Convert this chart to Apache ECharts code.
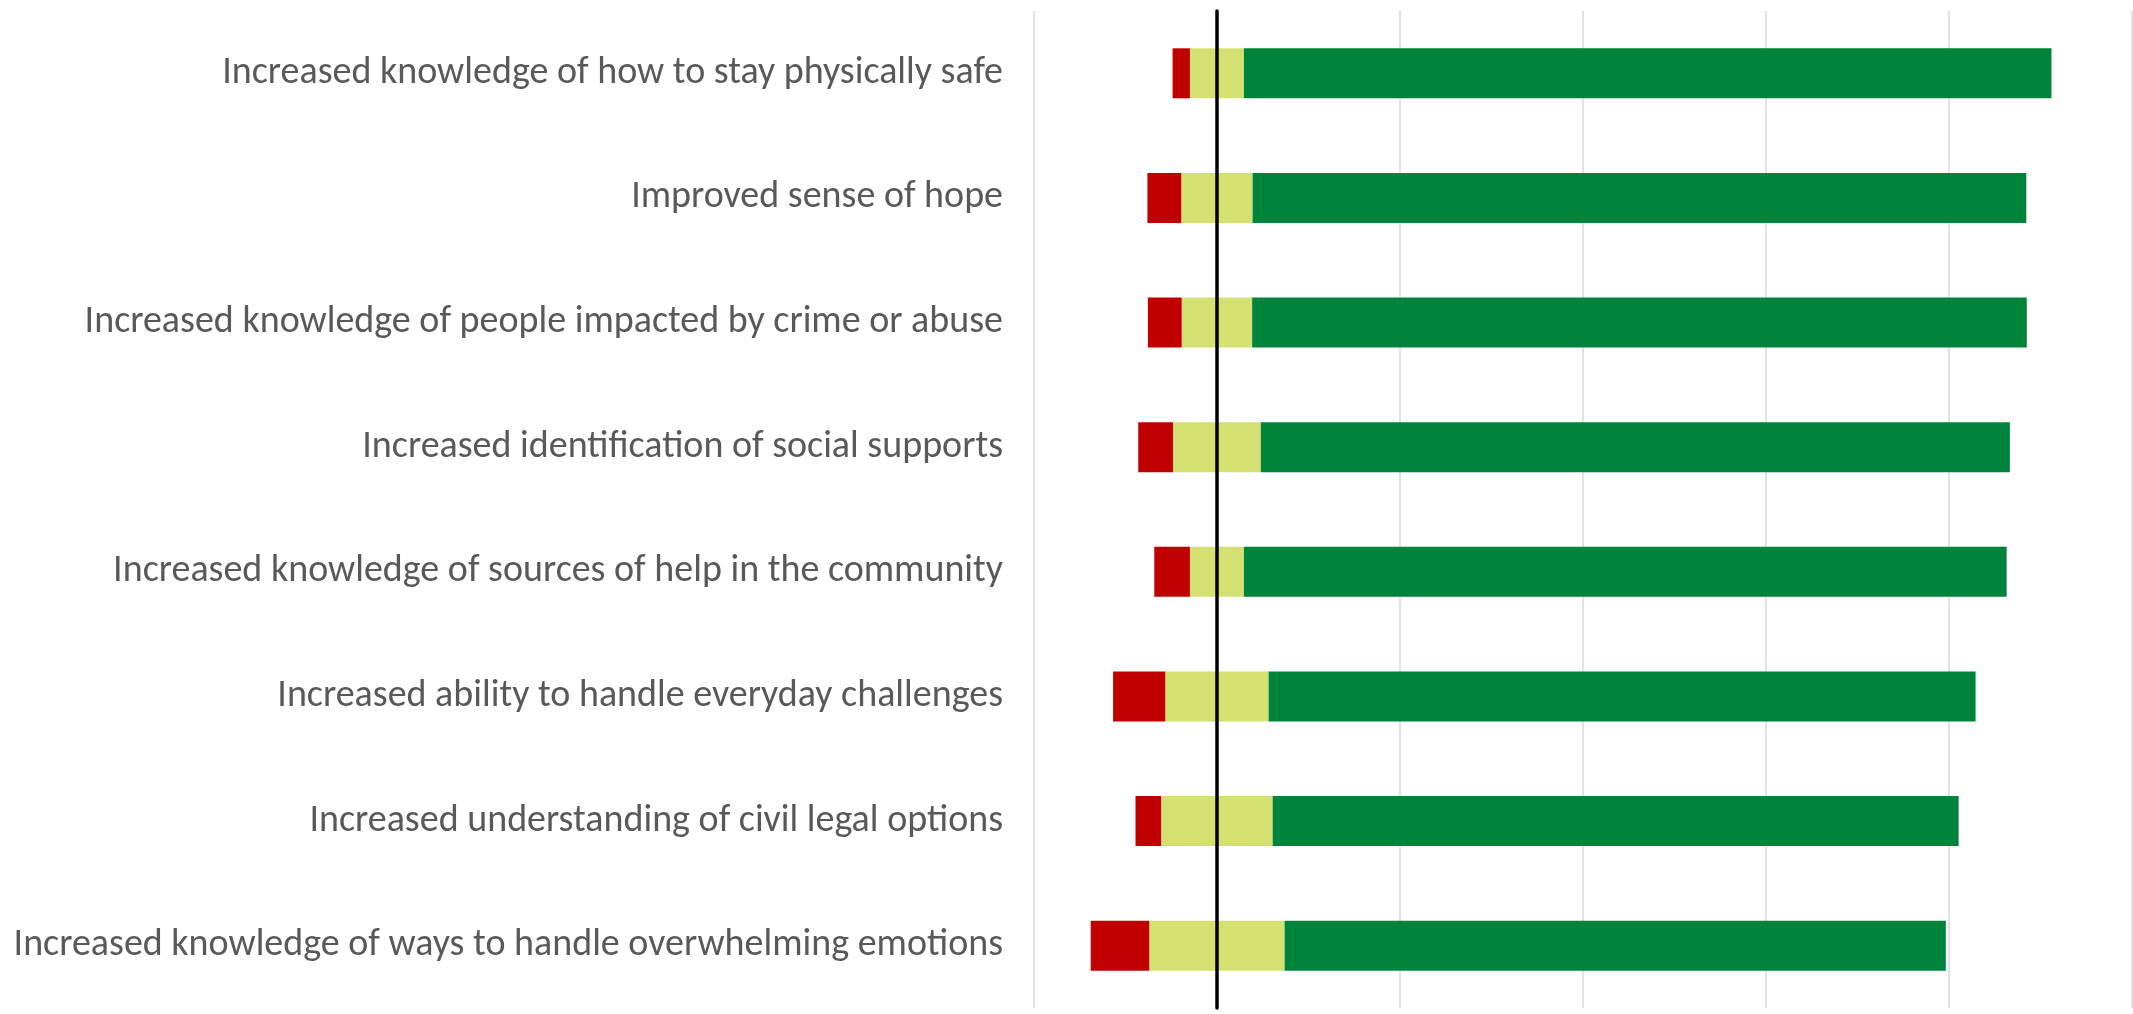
<!DOCTYPE html>
<html>
<head>
<meta charset="utf-8">
<title>Reported outcomes</title>
<script src="https://cdn.jsdelivr.net/npm/echarts@6/dist/echarts.min.js"></script>
<style>
  html, body { margin: 0; padding: 0; background: #ffffff; }
  #chart { width: 2133px; height: 1014px; }
</style>
</head>
<body>
<div id="chart"></div>
<script>
// Outcome statements, top to bottom
const outcomes = [
  'Increased knowledge of how to stay physically safe',
  'Improved sense of hope',
  'Increased knowledge of people impacted by crime or abuse',
  'Increased identification of social supports',
  'Increased knowledge of sources of help in the community',
  'Increased ability to handle everyday challenges',
  'Increased understanding of civil legal options',
  'Increased knowledge of ways to handle overwhelming emotions'
];

// Share of responses (%) per outcome
const disagree = [1.9, 3.7, 3.7, 3.8, 3.9, 5.7, 2.8, 6.4];
const neutral  = [5.9, 7.8, 7.7, 9.6, 5.9, 11.3, 12.2, 14.8];
const agree    = [88.3, 84.6, 84.7, 81.9, 83.4, 77.3, 75.0, 72.3];

// Value axis ticks (%)
const axisTicks = [-20, 0, 20, 40, 60, 80, 100];

const RED = '#C00000';
const YELLOW = '#D5E072';
const GREEN = '#00843C';

// Neutral responses are centred on zero: half drawn on each side
const neutralLeft = neutral.map(v => -v / 2);
const neutralRight = neutral.map(v => v / 2);
const disagreeLeft = disagree.map(v => -v);

const chart = echarts.init(document.getElementById('chart'), null, { renderer: 'canvas' });

const barCommon = {
  type: 'bar',
  stack: 'total',
  barWidth: 50,
  silent: true
};

chart.setOption({
  animation: false,
  backgroundColor: '#ffffff',
  grid: { left: 1034, right: 1.5, top: 11, bottom: 6, containLabel: false },
  xAxis: {
    type: 'value',
    min: axisTicks[0],
    max: axisTicks[axisTicks.length - 1],
    interval: axisTicks[1] - axisTicks[0],
    axisLabel: { show: false },
    axisTick: { show: false },
    axisLine: { show: false },
    splitLine: { show: true, lineStyle: { color: '#D9D9D9', width: 1.5 } }
  },
  yAxis: {
    type: 'category',
    inverse: true,
    data: outcomes,
    axisTick: { show: false },
    axisLine: { show: true, onZero: true, lineStyle: { color: '#000000', width: 3.5 } },
    axisLabel: {
      margin: 31,
      color: '#595959',
      fontSize: 38,
      fontFamily: 'Carlito, Lato, sans-serif'
    },
    z: 10
  },
  series: [
    Object.assign({ name: 'Neutral', data: neutralLeft, itemStyle: { color: YELLOW } }, barCommon),
    Object.assign({ name: 'Disagree', data: disagreeLeft, itemStyle: { color: RED } }, barCommon),
    Object.assign({ name: 'Neutral ', data: neutralRight, itemStyle: { color: YELLOW } }, barCommon),
    Object.assign({ name: 'Agree', data: agree, itemStyle: { color: GREEN } }, barCommon)
  ]
});
</script>
</body>
</html>
